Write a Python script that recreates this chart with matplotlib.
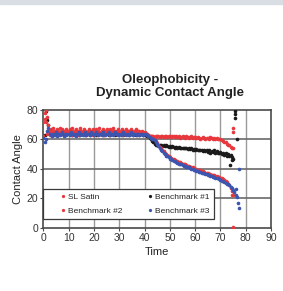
import numpy as np
import matplotlib
matplotlib.use("Agg")
import matplotlib.pyplot as plt

plt.rcParams['font.family'] = ['Liberation Sans', 'DejaVu Sans']

# ================== DATA ==================
# one reading every 0.5 s, 0 .. 75 s
t = np.arange(0, 75.5, 0.5)

sl_satin = [
    72, 78, 80, 75, 70, 66,
    67, 65, 68, 66, 64, 67, 66, 68, 65, 67, 66, 64, 67, 66,
    65, 67, 66, 68, 65, 66, 67, 65, 66, 68, 66, 65, 67, 66, 64, 66, 67, 65, 66, 67,
    66, 65, 67, 66, 68, 65, 66, 67, 65, 66, 67, 66, 65, 67, 66, 68, 65, 66, 66, 67,
    65, 66, 67, 66, 65, 67, 66, 65, 66, 67, 66, 65, 66, 67, 65, 66, 66, 65, 66, 65,
    65, 64, 63.5, 63, 62.5, 62, 62.5, 62, 61.5, 62, 62.5, 62, 61.5, 62, 62, 61.5, 62, 62.5, 61.5, 62,
    62, 61.5, 62, 62.5, 61.5, 62, 61.5, 62, 61, 61.5, 62, 61.5, 61, 62, 61.5, 61, 61.5, 62, 61, 61.5,
    61.5, 61, 61.5, 61, 60.5, 61, 61.5, 61, 60.5, 61, 61, 60.5, 61.5, 61, 60.5, 61, 60.5, 61, 60.5, 60,
    60, 59.5, 59, 58.5, 58, 57, 56.5, 56, 55, 54.5, 54,
]

bench1 = [
    62, 63, 79, 73, 70, 65,
    64, 65, 63, 64, 65, 64, 63, 65, 64, 64, 65, 63, 64, 65,
    64, 65, 64, 63, 64, 65, 64, 64, 63, 65, 64, 64, 65, 63, 64, 65, 64, 63, 64, 65,
    64, 64, 63, 65, 64, 64, 65, 63, 64, 64, 65, 64, 63, 64, 65, 64, 64, 63, 65, 64,
    64, 65, 64, 63, 64, 64, 65, 64, 63, 64, 64, 65, 64, 63, 64, 64, 63, 64, 64, 63,
    63.5, 63, 62.5, 62, 61, 60, 59, 58, 57, 56.5, 56.5, 56, 56.5, 56, 55.5, 56, 55.5, 56, 55.5, 55,
    55.5, 55, 55.5, 55, 54.5, 55, 54.5, 55, 54.5, 54, 54.5, 54, 54.5, 54, 53.5, 54, 53.5, 54, 53, 53.5,
    53, 53.5, 53, 52.5, 53, 52.5, 52, 53, 52, 52.5, 51.5, 52.5, 51, 52, 51.5, 52.5, 51, 52, 51, 50.5,
    51.5, 50, 51, 49.5, 50.5, 49, 50, 48.5, 49.5, 48, 47,
]

bench2 = [
    62, 74, 72, 64, 66, 63,
    64, 66, 63, 65, 64, 66, 63, 65, 64, 66, 65, 63, 65, 64,
    66, 64, 65, 63, 66, 65, 64, 66, 63, 65, 64, 66, 65, 64, 63, 65, 66, 64, 65, 63,
    65, 64, 66, 63, 65, 64, 66, 65, 63, 64, 66, 65, 64, 63, 65, 66, 64, 65, 64, 66,
    64, 65, 63, 66, 64, 65, 64, 66, 65, 64, 65, 63, 65, 64, 66, 64, 65, 64, 65, 64,
    64.5, 64, 63.5, 63, 62.5, 62, 61.5, 61, 60, 59, 57.5, 56.5, 55, 54, 53, 52, 51, 50, 49.5, 48.5,
    48, 47.5, 47, 46.5, 46, 45.5, 45, 44.5, 44.5, 44, 43.5, 43, 43, 42.5, 42, 42, 41.5, 41, 41, 40.5,
    40, 40, 39.5, 39, 39, 38.5, 38.5, 38, 37.5, 37.5, 37, 36.5, 36.5, 36, 36, 35.5, 35, 35, 34.5, 34.5,
    34, 33.5, 33, 32.5, 32, 31, 30, 29, 27, 25, 22,
]

bench3 = [
    61, 58, 60, 66, 68, 64,
    63, 62, 64, 63, 65, 62, 64, 63, 64, 65, 62, 64, 63, 64,
    64, 63, 65, 64, 63, 64, 62, 64, 65, 63, 64, 63, 64, 65, 63, 64, 64, 63, 65, 64,
    63, 64, 65, 63, 64, 64, 63, 65, 64, 63, 64, 64, 65, 63, 64, 63, 64, 65, 64, 63,
    64, 63, 64, 65, 64, 63, 64, 64, 63, 65, 64, 63, 64, 64, 63, 64, 63, 64, 64, 63,
    64, 63.5, 63, 62, 61.5, 61, 60.5, 60, 59.5, 58.5, 57, 55.5, 54, 53, 52, 51, 50, 49, 48.5, 48,
    47, 46.5, 46, 45.5, 45, 44.5, 44, 43.5, 43, 43, 42.5, 42, 42, 41.5, 41, 41, 40.5, 40, 40, 39.5,
    39, 38.5, 38.5, 38, 38, 37.5, 37, 37, 36.5, 36.5, 36, 35.5, 35, 35, 34.5, 34.5, 34, 34, 33.5, 33,
    32.5, 32, 31.5, 31, 30.5, 30, 29.5, 29, 28, 27, 25.5,
]

# stray readings at the end of each run
sl_satin_t_end = [74.5, 75, 75, 75]
sl_satin_end = [22, 68, 65.3, 0.7]
bench1_t_end = [73.8, 74.5, 75.8, 75.8, 75.8, 76.7]
bench1_end = [42.6, 46, 79, 77, 74.6, 60]
bench3_t_end = [75.5, 76, 76, 76.5, 77, 77.5, 77.5]
bench3_end = [24, 26, 22, 21, 17, 40, 13.5]

colors = {"SL Satin": "#e8383d", "Benchmark #1": "#1a1a1a",
          "Benchmark #2": "#e8383d", "Benchmark #3": "#3b55b0"}

# ================== FIGURE ==================
fig = plt.figure(figsize=(2.83, 2.91), dpi=100)
fig.patches.append(plt.Rectangle((0, 1 - 4 / 291), 1, 4 / 291, transform=fig.transFigure,
                                 color="#d9dee4", zorder=0))
ax = fig.add_axes([0.153, 0.2175, 0.805, 0.4045])

ms = 2.6
h1, = ax.plot(t, bench1, 'o', ms=ms, mew=0, color=colors["Benchmark #1"], zorder=3)
ax.plot(bench1_t_end, bench1_end, 'o', ms=ms, mew=0, color=colors["Benchmark #1"], zorder=3)
h0, = ax.plot(t, sl_satin, 'o', ms=ms, mew=0, color=colors["SL Satin"], zorder=4)
ax.plot(sl_satin_t_end, sl_satin_end, 'o', ms=ms, mew=0, color=colors["SL Satin"], zorder=4)
h2, = ax.plot(t, bench2, 'o', ms=ms, mew=0, color=colors["Benchmark #2"], zorder=4)
h3, = ax.plot(t, bench3, 'o', ms=ms, mew=0, color=colors["Benchmark #3"], zorder=5)
ax.plot(bench3_t_end, bench3_end, 'o', ms=ms, mew=0, color=colors["Benchmark #3"], zorder=5)

ax.set_xlim(0, 90)
ax.set_ylim(0, 80)
ax.set_xticks(range(0, 91, 10))
ax.set_yticks(range(0, 81, 20))
for x in range(10, 90, 10):
    ax.axvline(x, color="#9a9a9a", lw=1.0, zorder=1)
for y in (20, 40, 60):
    ax.axhline(y, color="#6a6a6a", lw=1.2, zorder=1)
for s in ax.spines.values():
    s.set_color("#4a4a4a")
    s.set_linewidth(1.2)
ax.tick_params(length=2, width=0.8, color="#4a4a4a", labelsize=7.5, pad=1.5,
               labelcolor="#333333")

ax.set_xlabel("Time", fontsize=8, color="#222222", labelpad=3.5)
ax.set_ylabel("Contact Angle", fontsize=8, color="#222222", labelpad=3)
fig.text(0.6, 0.703, "Oleophobicity -\nDynamic Contact Angle", ha="center", va="center",
         fontsize=9.5, fontweight="bold", color="#222222", linespacing=1.15)

leg = ax.legend([h0, h2, h1, h3], ["SL Satin", "Benchmark #2", "Benchmark #1", "Benchmark #3"],
                ncol=2, loc="lower left", bbox_to_anchor=(0, 6 / 80, 67.5 / 90, 19.6 / 80),
                mode="expand", borderaxespad=0, fontsize=6, markerscale=0.9,
                handlelength=3.7, handletextpad=-1.25, fancybox=False, framealpha=1,
                edgecolor="#3a3a3a", borderpad=0.5, labelspacing=0.7)
leg.get_frame().set_linewidth(0.9)
leg.set_zorder(10)
for txt in leg.get_texts():
    txt.set_color("#222222")

fig.savefig("out.png", dpi=100)
